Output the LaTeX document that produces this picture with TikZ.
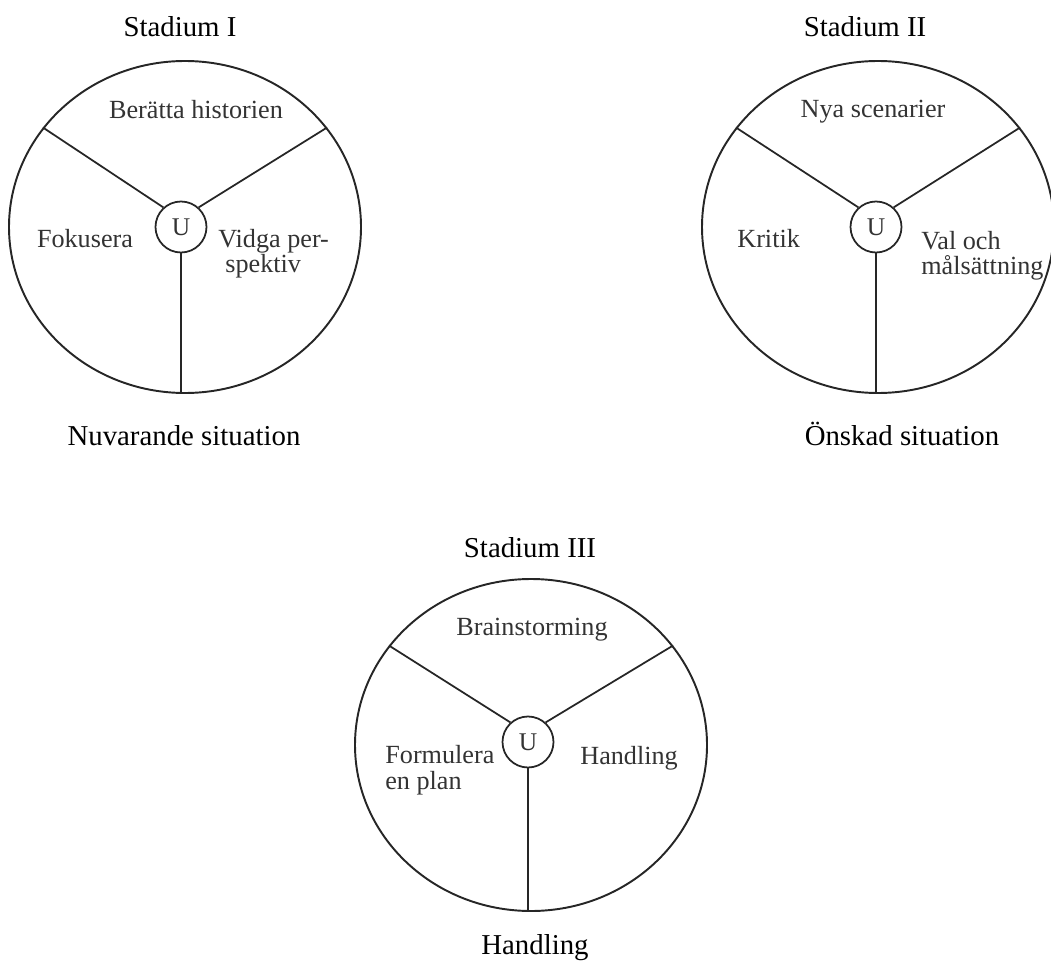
\documentclass[tikz,border=0pt]{standalone}
\usepackage{fontspec}
\setmainfont{Liberation Serif}
\usepackage{tikz}
\usetikzlibrary{shapes.geometric, positioning, calc}
\tikzset{
  ring/.style   = {ellipse, draw=black!85, line width=1.1pt, inner sep=0pt,
                   minimum width=7.04cm, minimum height=6.64cm},
  hub/.style    = {circle, draw=black!85, line width=1.0pt, inner sep=0pt,
                   minimum size=1.02cm, text=black!80,
                   font=\fontsize{14.5}{14}\selectfont},
  spoke/.style  = {draw=black!85, line width=1.0pt},
  title/.style  = {anchor=base, inner sep=0pt,
                   font=\fontsize{16.4}{19}\selectfont},
  sector/.style = {inner sep=0pt, align=left, text=black!80,
                   font=\fontsize{14.9}{14.4}\selectfont},
}

\begin{document}
\begin{tikzpicture}
  \useasboundingbox (0,0) rectangle (21.02,19.30);

  % three wheels: ring, hub U and three spokes
  \foreach \n/\rx/\ry/\ux/\uy in {
      1/3.70/14.76/3.62/14.76,
      2/17.56/14.76/17.52/14.76,
      3/10.62/4.40/10.56/4.46}{
    \node[ring] (r\n) at (\rx,\ry) {};
    \node[hub] (u\n) at (\ux,\uy) {U};
    \draw[spoke] (u\n.132) -- (r\n.145);
    \draw[spoke] (u\n.48) -- (r\n.35);
    \draw[spoke] (u\n.south) -- (u\n |- r\n.south);
  }

  % stage titles and situations
  \node[title] (t1) at (3.60,18.56) {Stadium I};
  \node[title] (t2) at (17.30,18.56) {Stadium II};
  \node[title] (t3) at (10.60,8.16) {Stadium III};
  \node[title] (b1) at (3.68,10.40) {Nuvarande situation};
  \node[title] (b2) at (18.04,10.40) {Önskad situation};
  \node[title] (b3) at (10.70,0.22) {Handling};

  % Stadium I sectors (base = last line)
  \node[sector, anchor=base] (a1) at (3.92,16.92) {Berätta historien};
  \node[sector, anchor=base] (a2) at (1.70,14.34) {Fokusera};
  \node[sector, anchor=base west] (a3) at (4.36,13.84) {Vidga per-\\\hspace*{0.14cm}spektiv};

  % Stadium II sectors
  \node[sector, anchor=base] (c1) at (17.46,16.94) {Nya scenarier};
  \node[sector, anchor=base west] (c2) at (14.74,14.34) {Kritik};
  \node[sector, anchor=base west] (c3) at (18.42,13.80) {Val och\\målsättning};

  % Stadium III sectors
  \node[sector, anchor=base] (d1) at (10.64,6.60) {Brainstorming};
  \node[sector, anchor=base west] (d2) at (7.70,3.52) {Formulera\\en plan};
  \node[sector, anchor=base west] (d3) at (11.60,4.02) {Handling};
\end{tikzpicture}
\end{document}
